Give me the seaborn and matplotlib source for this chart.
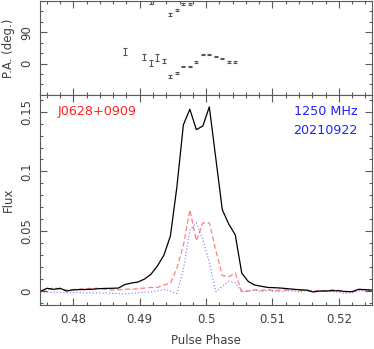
import numpy as np
import pandas as pd
import matplotlib
matplotlib.use("Agg")
import matplotlib.pyplot as plt
from matplotlib.ticker import MultipleLocator, FixedLocator
import seaborn as sns

# ---- data ----
bins = np.arange(486, 538)
phase = (bins + 0.5) / 1024.0

flux_I = [0.000, 0.0023, 0.0014, 0.0023, 0.000, 0.001, 0.0012, 0.0013, 0.0015, 0.002,
          0.0022, 0.0023, 0.0025, 0.0055, 0.0067, 0.0075, 0.010, 0.014, 0.021, 0.030,
          0.046, 0.087, 0.139, 0.152, 0.135, 0.138, 0.154, 0.111, 0.068, 0.056,
          0.047, 0.015, 0.008, 0.005, 0.004, 0.003, 0.0028, 0.0025, 0.002, 0.0015,
          0.001, 0.0008, -0.0008, 0.0, 0.0, 0.0003, 0.0002, -0.0005, -0.0005, 0.0014,
          0.0012, 0.0008]
flux_L = [0.000, 0.0008, 0.0028, 0.0015, 0.0008, 0.0012, 0.0017, 0.002, 0.0023, 0.0023,
          0.0014, 0.0008, 0.001, 0.0015, 0.0015, 0.002, 0.0025, 0.003, 0.003, 0.005,
          0.0065, 0.019, 0.038, 0.068, 0.042, 0.057, 0.057, 0.034, 0.013, 0.012,
          0.015, -0.0005, 0.000, 0.001, 0.0005, 0.0015, 0.0, 0.001, 0.0008, 0.0012,
          0.0005, 0.001, -0.0005, 0.0008, 0.0, 0.0012, 0.0005, 0.0, -0.001, 0.0015,
          0.0008, 0.001]
flux_V = [-0.0005, -0.001, -0.001, -0.0012, -0.0013, -0.0012, -0.0013, -0.0015, -0.0015, -0.0016,
          -0.0017, -0.0018, -0.0022, -0.0025, -0.0018, -0.0015, -0.001, -0.0008, 0.0002, 0.0012,
          0.000, -0.002, 0.018, 0.051, 0.057, 0.043, 0.024, -0.0005, 0.004, 0.008,
          0.007, -0.0005, 0.0, 0.0008, -0.0003, 0.0005, 0.0, -0.0005, 0.0005, 0.0,
          -0.0008, 0.0003, 0.0, -0.0005, 0.0005, -0.0005, -0.001, -0.0018, -0.0015, 0.0,
          0.0005, -0.0005]

pa_bins = [499, 502, 503, 504, 505, 506, 507, 508, 509, 510, 511, 512, 513, 514, 515, 516]
pa_deg = [35, 19, 1, 18, 8, -38, -26, -9, -8, 5, 26, 27, 21, 14, 6, 5]
pa_err = [9, 8, 9, 10, 6, 4, 3, 2, 2, 2, 2, 2, 2, 2, 3, 2]

x_ticks = [0.48, 0.49, 0.50, 0.51, 0.52]
x_ticklabels = ["0.48", "0.49", "0.5", "0.51", "0.52"]
y_ticks = [0, 0.05, 0.10, 0.15]
y_ticklabels = ["0", "0.05", "0.1", "0.15"]
pa_ticks = [0, 90]
pa_ticklabels = ["0", "90"]

psr_name = "J0628+0909"
freq_label = "1250 MHz"
date_label = "20210922"

# ---- style ----
sns.set_style("ticks")
plt.rcParams["font.family"] = ["DejaVu Sans"]
plt.rcParams["font.size"] = 8.5
txt_col = "#404040"
ax_col = "#5a5a5a"

fig = plt.figure(figsize=(3.74, 3.49), dpi=100)
ax_pa = fig.add_axes([0.107, 0.728, 0.888, 0.269])
ax = fig.add_axes([0.107, 0.126, 0.888, 0.602])

df = pd.DataFrame({"phase": phase, "I": flux_I, "L": flux_L, "V": flux_V})
sns.lineplot(data=df, x="phase", y="V", ax=ax, color="blue", lw=0.9,
             linestyle=(0, (1, 1.6)), alpha=0.45)
sns.lineplot(data=df, x="phase", y="L", ax=ax, color="red", lw=0.9,
             linestyle=(0, (4, 2.2)), alpha=0.5)
sns.lineplot(data=df, x="phase", y="I", ax=ax, color="black", lw=0.9)

pa_phase = (np.array(pa_bins) + 0.5) / 1024.0
pa_arr = np.array(pa_deg, dtype=float)
for off in (0, 180):
    ax_pa.errorbar(pa_phase, pa_arr + off, yerr=pa_err, fmt="none",
                   ecolor="#555555", elinewidth=0.8, capsize=1.6, capthick=0.8)

# ---- axes ----
for a in (ax, ax_pa):
    a.set_xlim(0.475, 0.525)
    a.xaxis.set_major_locator(FixedLocator(x_ticks))
    a.xaxis.set_minor_locator(MultipleLocator(0.002))
    a.tick_params(which="both", direction="in", top=True, right=True,
                  colors=ax_col, labelcolor=txt_col, width=0.8)
    a.tick_params(which="major", length=5)
    a.tick_params(which="minor", length=2.5)
    for s in a.spines.values():
        s.set_color(ax_col)
        s.set_linewidth(0.8)

ax.set_ylim(-0.0117, 0.164)
ax.set_yticks(y_ticks)
ax.set_yticklabels(y_ticklabels, rotation=90, va="center")
ax.yaxis.set_minor_locator(MultipleLocator(0.01))
ax.set_xticks(x_ticks)
ax.set_xticklabels(x_ticklabels)
ax.tick_params(axis="x", pad=6)
ax.tick_params(axis="y", pad=5)

ax_pa.set_ylim(-90, 180)
ax_pa.set_yticks(pa_ticks)
ax_pa.set_yticklabels(pa_ticklabels, rotation=90, va="center")
ax_pa.yaxis.set_minor_locator(MultipleLocator(30))
ax_pa.tick_params(axis="x", labelbottom=False)
ax_pa.tick_params(axis="y", pad=5)

ax.set_xlabel("Pulse Phase", color=txt_col)
ax.set_ylabel("Flux", color=txt_col)
ax_pa.set_ylabel("P.A. (deg.)", color=txt_col)
ax.xaxis.set_label_coords(0.5, -0.14)
ax.yaxis.set_label_coords(-0.075, 0.5)
ax_pa.yaxis.set_label_coords(-0.075, 0.5)

ax.text(0.054, 0.919, psr_name, transform=ax.transAxes, color="#ff2020",
        fontsize=9.2, ha="left", va="center")
ax.text(0.955, 0.919, freq_label, transform=ax.transAxes, color="#2020ff",
        fontsize=9.2, ha="right", va="center")
ax.text(0.955, 0.833, date_label, transform=ax.transAxes, color="#2020ff",
        fontsize=9.2, ha="right", va="center")

fig.savefig("out.png", dpi=100)
